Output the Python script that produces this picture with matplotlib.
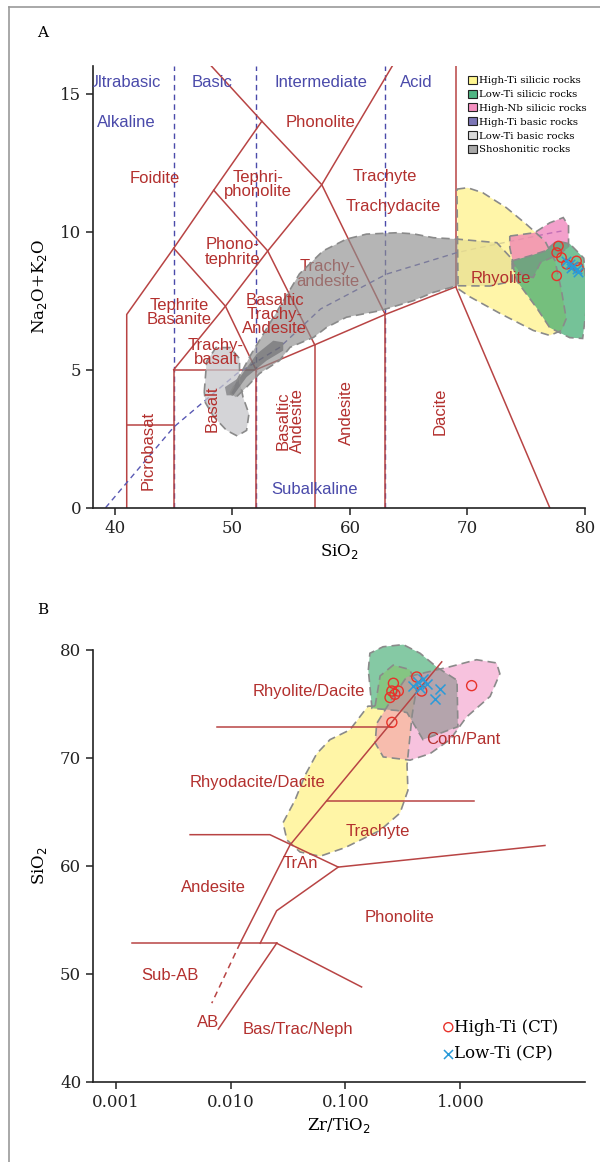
import matplotlib
matplotlib.use("Agg")
import matplotlib.pyplot as plt
from matplotlib.patches import Polygon, Patch
from matplotlib.lines import Line2D

# ---- TAS diagram (A): field boundaries, SiO2 vs Na2O+K2O ----
TAS_LINES = [
    [(41, 0), (41, 7), (45, 9.4), (48.4, 11.5), (52.5, 14), (48.2, 16)],
    [(41, 3), (45, 3)],
    [(45, 0), (45, 5)],
    [(45, 5), (52, 5)],
    [(52, 0), (52, 5), (57, 5.9), (63, 7), (69, 8), (77, 0)],
    [(57, 0), (57, 5.9)],
    [(63, 0), (63, 7)],
    [(69, 8), (69, 16)],
    [(45, 5), (49.4, 7.3), (53, 9.3), (57.6, 11.7), (63.6, 16)],
    [(45, 9.4), (49.4, 7.3), (52, 5)],
    [(48.4, 11.5), (53, 9.3), (57, 5.9)],
    [(52.5, 14), (57.6, 11.7), (63, 7)],
]
SILICA_DIVS = [45, 52, 63]
ALK_CURVE_X = [39.2, 45.0, 50.35, 54.0, 57.5, 63.1, 69.1, 70.8, 77.2, 78.0]
ALK_CURVE_Y = [0.0, 2.92, 4.85, 5.8, 7.2, 8.46, 9.24, 9.4, 9.96, 10.02]

A_LABELS = [
    ("Basic", 48.25, 15.4), ("Intermediate", 57.5, 15.4), ("Acid", 65.6, 15.4),
]
A_RED_LABELS = [
    ("Phonolite", 57.45, 13.96, 0), ("Foidite", 43.4, 11.93, 0),
    ("Tephri-\nphonolite", 52.2, 11.7, 0), ("Trachyte", 63.0, 12.0, 0),
    ("Trachydacite", 63.7, 10.9, 0), ("Phono-\ntephrite", 50.0, 9.26, 0),
    ("Tephrite\nBasanite", 45.5, 7.06, 0),
    ("Basaltic\nTrachy-\nAndesite", 53.6, 7.0, 0), ("Trachy-\nbasalt", 48.6, 5.62, 0),
    ("Rhyolite", 72.8, 8.3, 0), ("Picrobasat", 42.8, 2.08, 90),
    ("Basalt", 48.3, 3.6, 90), ("Basaltic\nAndesite", 54.9, 3.17, 90),
    ("Andesite", 59.7, 3.45, 90), ("Dacite", 67.7, 3.5, 90),
]

# geochemical fields (A)
LOW_TI_BASIC_A = [(47.6, 4.2), (47.8, 5.3), (48.6, 5.8), (49.8, 5.8), (50.6, 5.4), (50.6, 4.6),
                  (50.9, 4.0), (51.4, 3.4), (51.2, 2.8), (50.4, 2.6), (49.5, 2.8), (48.4, 3.3), (47.7, 3.8)]
SHOSHONITIC_A = [(49.8, 4.14), (51.6, 5.57), (54.0, 7.26), (55.7, 8.47), (57.7, 9.3), (59.7, 9.73),
                 (61.4, 9.91), (64.0, 9.96), (65.4, 9.92), (67.1, 9.78), (69.1, 9.73), (72.5, 9.6),
                 (73.8, 9.0), (73.8, 8.2), (71.9, 8.03), (69.1, 8.04), (67.1, 7.8), (65.4, 7.5),
                 (62.6, 7.14), (59.7, 6.9), (58.0, 6.53), (56.9, 6.17), (54.9, 5.81), (54.0, 5.33),
                 (52.3, 4.86), (51.2, 4.37), (50.3, 4.0)]
HIGH_TI_BASIC_A = [(49.36, 4.37), (50.64, 4.73), (52.06, 5.57), (53.47, 6.05), (54.32, 5.99),
                   (54.32, 5.69), (52.91, 5.33), (51.2, 4.73), (50.07, 4.07), (49.5, 4.07)]
HIGH_TI_SILICIC_A = [(69.1, 11.54), (70.0, 11.59), (71.3, 11.41), (73.3, 10.87), (75.0, 10.27),
                     (76.6, 9.66), (77.45, 8.94), (78.0, 7.86), (78.4, 6.85), (78.0, 6.42),
                     (77.0, 6.24), (75.6, 6.42), (72.8, 7.03), (70.2, 7.64), (69.2, 7.93)]
LOW_TI_SILICIC_A = [(73.76, 8.94), (75.3, 9.12), (76.6, 9.3), (77.6, 9.66), (78.7, 9.56), (79.9, 9.04),
                    (80.2, 7.5), (79.8, 6.13), (78.7, 6.16), (77.0, 6.52), (75.9, 7.23), (74.2, 8.21)]
HIGH_NB_SILICIC_A = [(73.6, 9.84), (75.7, 9.96), (77.0, 10.32), (78.15, 10.51), (78.6, 10.21),
                     (78.6, 9.42), (77.45, 9.12), (76.2, 8.87), (75.6, 8.34), (74.75, 8.4),
                     (73.9, 8.82), (73.6, 9.42)]

CT_SIO2 = [77.74, 77.59, 78.0, 78.43, 79.28, 77.59, 79.43]
CT_ALK = [9.48, 9.24, 9.06, 8.82, 8.94, 8.4, 8.7]
CP_SIO2 = [78.4, 78.7, 79.0, 79.3, 78.85, 79.4]
CP_ALK = [8.94, 8.82, 8.76, 8.64, 8.7, 8.52]

# ---- Winchester & Floyd (B): Zr/TiO2 vs SiO2 ----
WF_LINES = [
    [(0.00764, 72.9), (0.252, 72.9)],
    [(0.0121, 52.84), (0.0329, 61.94), (0.687, 78.9)],
    [(0.0687, 66.0), (1.31, 66.0)],
    [(0.00445, 62.9), (0.022, 62.9), (0.0865, 59.9), (5.43, 61.9)],
    [(0.0865, 59.9), (0.0252, 55.86), (0.0181, 52.85)],
    [(0.00138, 52.85), (0.0252, 52.85)],
    [(0.0252, 52.85), (0.138, 48.8)],
    [(0.0252, 52.85), (0.00783, 44.9)],
]
WF_DASHED = [(0.0121, 52.84), (0.00687, 47.3)]
B_LABELS = [
    ("Rhyolite/Dacite", 0.0482, 76.2), ("Com/Pant", 1.05, 71.7),
    ("Rhyodacite/Dacite", 0.0173, 67.7), ("Trachyte", 0.192, 63.15),
    ("TrAn", 0.0402, 60.2), ("Andesite", 0.00705, 58.0), ("Phonolite", 0.292, 55.2),
    ("Sub-AB", 0.00298, 49.9), ("AB", 0.00637, 45.5), ("Bas/Trac/Neph", 0.0387, 44.9),
]

HIGH_TI_SILICIC_B = [(0.181, 74.8), (0.2, 77.6), (0.26, 78.6), (0.36, 78.2), (0.42, 76.8),
                     (0.38, 74.0), (0.343, 69.35), (0.349, 67.0), (0.298, 64.9), (0.2, 63.3),
                     (0.099, 61.7), (0.06, 60.9), (0.0402, 61.3), (0.031, 62.4), (0.0286, 64.0),
                     (0.0364, 66.1), (0.0445, 68.4), (0.0562, 70.4), (0.0733, 71.7), (0.109, 72.6),
                     (0.157, 74.8)]
LOW_TI_SILICIC_B = [(0.158, 78.15), (0.163, 79.7), (0.212, 80.3), (0.318, 80.5), (0.445, 79.7),
                    (0.625, 78.4), (0.933, 77.2), (0.95, 72.9), (0.472, 71.7), (0.343, 74.2),
                    (0.28, 74.4), (0.17, 74.6)]
HIGH_NB_SILICIC_B = [(0.261, 75.7), (0.34, 77.5), (0.811, 78.45), (1.38, 79.1), (2.06, 78.8),
                     (2.2, 77.8), (1.81, 75.7), (1.13, 73.8), (0.811, 71.7), (0.543, 70.4),
                     (0.364, 69.8), (0.213, 70.1), (0.181, 71.4), (0.187, 73.2)]

CT_ZRTI = [0.261, 0.253, 0.288, 0.269, 0.244, 0.416, 0.46, 0.253, 1.25]
CT_SIO2_B = [76.92, 76.2, 76.2, 75.9, 75.6, 77.5, 76.2, 73.3, 76.7]
CP_ZRTI = [0.389, 0.43, 0.475, 0.508, 0.445, 0.664, 0.6]
CP_SIO2_B = [76.7, 77.0, 77.3, 76.85, 76.5, 76.4, 75.5]

RED = "#b3302e"
LINE = "#b84444"
BLUE = "#4a4aaa"
SANS = ["Liberation Sans", "DejaVu Sans"]
SERIF = ["DejaVu Serif"]
FS = 12

C_YEL, C_GRN, C_PNK = "#fff390", "#3aa86c", "#ee78b6"
C_SHO, C_LTB, C_HTB = "#8e8e8e", "#c6c6ca", "#5e5e62"

plt.rcParams["font.family"] = SERIF


def field(ax, pts, color, alpha, z=3, border=True):
    ax.add_patch(Polygon(pts, closed=True, facecolor=color, alpha=alpha, edgecolor="none", zorder=z))
    if border:
        ax.add_patch(Polygon(pts, closed=True, facecolor="none", edgecolor="#8a8a8a",
                             lw=1.2, ls=(0, (5, 3)), zorder=z + 0.1))


def style(ax):
    for s in ("top", "right"):
        ax.spines[s].set_visible(False)
    for s in ("left", "bottom"):
        ax.spines[s].set_linewidth(1.2)
        ax.spines[s].set_color("#222222")
    ax.tick_params(direction="out", length=5, width=1.1, labelsize=12, colors="#222222")


fig = plt.figure(figsize=(6.0, 11.62), dpi=100)

# outer frame
fig.add_artist(Line2D([8.5 / 600, 8.5 / 600], [0, 1 - 7 / 1162], color="#9a9a9a", lw=1.2))
fig.add_artist(Line2D([8.5 / 600, 1], [1 - 7 / 1162, 1 - 7 / 1162], color="#9a9a9a", lw=1.2))
fig.text(43 / 600, 1 - 33 / 1162, "A", fontsize=11, ha="center", va="center")
fig.text(43 / 600, 1 - 610 / 1162, "B", fontsize=11, ha="center", va="center")

# ---------------- A ----------------
ax = fig.add_axes([93 / 600, 1 - 507.7 / 1162, 492 / 600, 441.7 / 1162])
ax.set_xlim(38.13, 80)
ax.set_ylim(0, 16)
style(ax)
ax.set_xticks([40, 50, 60, 70, 80])
ax.set_yticks([0, 5, 10, 15])

for xv in SILICA_DIVS:
    ax.plot([xv, xv], [0, 16], color=BLUE, lw=1.0, ls=(0, (4, 3)), zorder=2)
for seg in TAS_LINES:
    xs, ys = zip(*seg)
    ax.plot(xs, ys, color=LINE, lw=1.1, zorder=2)
ax.plot(ALK_CURVE_X, ALK_CURVE_Y, color="#5a5ab4", lw=1.0, ls=(0, (4, 3)), zorder=2)

ax.text(37.62, 15.4, "Ultrabasic", color=BLUE, fontsize=FS, family=SANS, ha="left",
        va="center", clip_on=True, zorder=8)
for txt, x, y in A_LABELS:
    ax.text(x, y, txt, color=BLUE, fontsize=FS, family=SANS, ha="center", va="center", zorder=8)
ax.text(38.45, 13.96, "Alkaline", color=BLUE, fontsize=FS, family=SANS, ha="left", va="center", zorder=8)
ax.text(57.0, 0.67, "Subalkaline", color=BLUE, fontsize=FS, family=SANS, ha="center", va="center", zorder=8)
for txt, x, y, rot in A_RED_LABELS:
    ax.text(x, y, txt, color=RED, fontsize=FS, family=SANS, ha="center", va="center",
            rotation=rot, linespacing=0.95, zorder=8)
# this one sits underneath the shoshonitic field
ax.text(58.1, 8.47, "Trachy-\nandesite", color=RED, fontsize=FS, family=SANS, ha="center",
        va="center", linespacing=0.95, zorder=2.5)

field(ax, LOW_TI_BASIC_A, C_LTB, 0.75)
field(ax, SHOSHONITIC_A, C_SHO, 0.65)
field(ax, HIGH_TI_BASIC_A, C_HTB, 0.55, border=False)
field(ax, HIGH_TI_SILICIC_A, C_YEL, 0.78)
field(ax, HIGH_NB_SILICIC_A, C_PNK, 0.7)
field(ax, LOW_TI_SILICIC_A, C_GRN, 0.7)

ax.scatter(CT_SIO2, CT_ALK, s=46, facecolors="none", edgecolors="#e8322a", lw=1.0, zorder=9, clip_on=False)
ax.scatter(CP_SIO2, CP_ALK, s=46, marker="x", color="#2a9ad8", lw=1.1, zorder=9, clip_on=False)

handles = [Patch(facecolor=c, edgecolor="#222222", lw=0.8) for c in
           ("#fff68f", "#4fb583", "#f490c0", "#7b75b5", "#d8d8d8", "#a8a8a8")]
labels = ["High-Ti silicic rocks", "Low-Ti silicic rocks", "High-Nb silicic rocks",
          "High-Ti basic rocks", "Low-Ti basic rocks", "Shoshonitic rocks"]
ax.legend(handles, labels, loc="upper left", bbox_to_anchor=(0.762, 0.978), frameon=False,
          fontsize=7.3, handlelength=0.85, handleheight=0.85, handletextpad=0.2,
          labelspacing=0.42, borderpad=0, borderaxespad=0)

ax.set_xlabel("SiO$_2$", fontsize=12, labelpad=4)
ax.set_ylabel("Na$_2$O+K$_2$O", fontsize=12, labelpad=8)

# ---------------- B ----------------
bx = fig.add_axes([93 / 600, 1 - 1082 / 1162, 492 / 600, 432 / 1162])
bx.set_xscale("log")
bx.set_xlim(10 ** -3.196, 10 ** 1.083)
bx.set_ylim(40, 80)
style(bx)
bx.set_xticks([0.001, 0.01, 0.1, 1.0])
bx.set_xticklabels(["0.001", "0.010", "0.100", "1.000"])
bx.minorticks_off()
bx.set_yticks([40, 50, 60, 70, 80])

field(bx, HIGH_TI_SILICIC_B, C_YEL, 0.8)
field(bx, LOW_TI_SILICIC_B, C_GRN, 0.62)
field(bx, HIGH_NB_SILICIC_B, C_PNK, 0.45)
for p in bx.patches:
    p.set_clip_on(False)

for seg in WF_LINES:
    xs, ys = zip(*seg)
    bx.plot(xs, ys, color=LINE, lw=1.1, zorder=5)
xs, ys = zip(*WF_DASHED)
bx.plot(xs, ys, color=LINE, lw=1.1, ls=(0, (4, 3)), zorder=5)
for txt, x, y in B_LABELS:
    bx.text(x, y, txt, color=RED, fontsize=FS, family=SANS, ha="center", va="center", zorder=8)

bx.scatter(CT_ZRTI, CT_SIO2_B, s=52, facecolors="none", edgecolors="#e8322a", lw=1.0, zorder=9,
           label="High-Ti (CT)")
bx.scatter(CP_ZRTI, CP_SIO2_B, s=52, marker="x", color="#2a9ad8", lw=1.1, zorder=9,
           label="Low-Ti (CP)")
bx.legend(loc="lower left", bbox_to_anchor=(0.712, 0.045), frameon=False, fontsize=12,
          handlelength=0.6, handletextpad=0.05, labelspacing=0.6, borderpad=0, borderaxespad=0,
          scatterpoints=1, markerscale=0.9)

bx.set_xlabel("Zr/TiO$_2$", fontsize=12, labelpad=4)
bx.set_ylabel("SiO$_2$", fontsize=12, labelpad=8)

fig.savefig("out.png", dpi=100)
